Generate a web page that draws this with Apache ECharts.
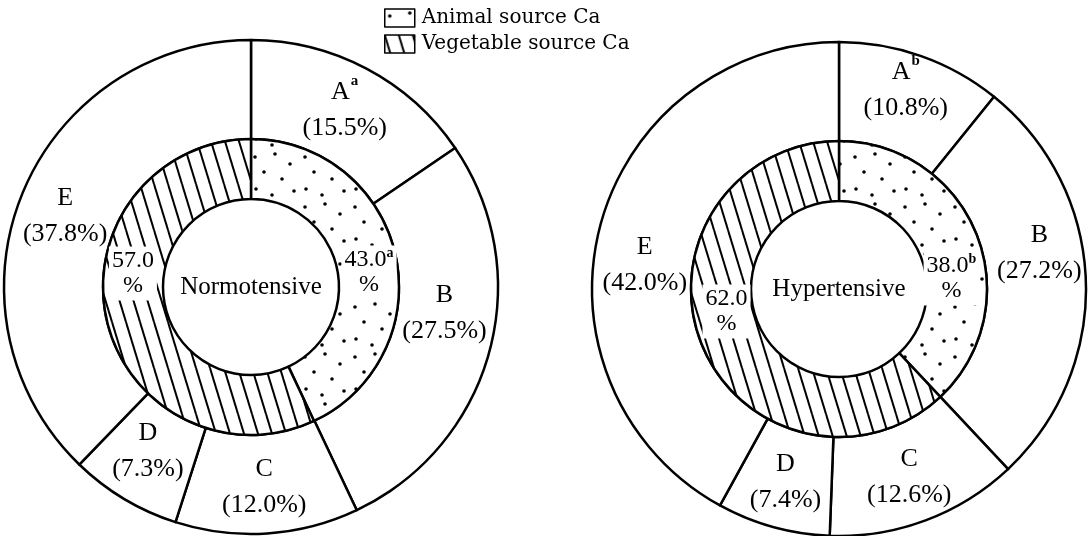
<!DOCTYPE html>
<html>
<head>
<meta charset="utf-8">
<script src="https://cdn.jsdelivr.net/npm/echarts@6/dist/echarts.min.js"></script>
<style>
    html, body { margin: 0; background: #fff; }
    #chart { width: 1090px; height: 536px; }
</style>
</head>
<body>
<div id="chart"></div>
<script>
// data
const groups = ['Normotensive', 'Hypertensive'];
const groupMarks = ['a', 'b'];
const parts = ['A', 'B', 'C', 'D', 'E'];
const normoShares = [15.5, 27.5, 12.0, 7.3, 37.8];
const hyperShares = [10.8, 27.2, 12.6, 7.4, 42.0];
const sources = ['Animal source Ca', 'Vegetable source Ca'];
const normoSource = [43.0, 57.0];
const hyperSource = [38.0, 62.0];

const FONT = 'Liberation Serif';
const centers = [[251, 287], [839, 289]];
// small label nudges so they sit where the printed figure has them
const outerNudge = [[0, -26, 0, -8, 4], [-10, -28, 0, 0, 26]];
const innerNudge = [[12, -40], [34, -22]];

function make_dots() {
    const c = document.createElement('canvas');
    c.width = 50; c.height = 50;
    const g = c.getContext('2d');
    g.fillStyle = '#fff';
    g.fillRect(0, 0, 50, 50);
    g.fillStyle = '#000';
    [[5, 7], [25, 4], [40, 14], [14, 22], [32, 29], [6, 39], [22, 45], [44, 41]].forEach(function (p) {
        g.beginPath();
        g.arc(p[0], p[1], 1.8, 0, Math.PI * 2);
        g.fill();
    });
    return c;
}

function make_hatch() {
    const w = 14, h = 46;
    const c = document.createElement('canvas');
    c.width = w; c.height = h;
    const g = c.getContext('2d');
    g.fillStyle = '#fff';
    g.fillRect(0, 0, w, h);
    g.strokeStyle = '#000';
    g.lineWidth = 2;
    [-w, 0, w].forEach(function (off) {
        g.beginPath();
        g.moveTo(off, 0);
        g.lineTo(off + w, h);
        g.stroke();
    });
    return c;
}

const fills = [
    { image: make_dots(), repeat: 'repeat' },
    { image: make_hatch(), repeat: 'repeat' }
];

const rich = {
    n: { fontFamily: FONT, fontSize: 26, color: '#000', lineHeight: 36 },
    s: { fontFamily: FONT, fontSize: 15, fontWeight: 'bold', color: '#000', verticalAlign: 'top', lineHeight: 36, padding: [0, 0, 12, 1] },
    v: { fontFamily: FONT, fontSize: 24, color: '#000', lineHeight: 25 },
    t: { fontFamily: FONT, fontSize: 14, fontWeight: 'bold', color: '#000', lineHeight: 25, padding: [0, 0, 14, 0] }
};

function outer_series(k, shares) {
    return {
        type: 'pie',
        center: centers[k],
        radius: [148, 247],
        startAngle: 90,
        clockwise: true,
        silent: true,
        avoidLabelOverlap: false,
        itemStyle: { color: '#fff', borderColor: '#000', borderWidth: 2.5 },
        label: {
            position: 'inside',
            rich: rich,
            formatter: function (p) {
                const sup = p.dataIndex === 0 ? '{s|' + groupMarks[k] + '}' : '';
                return '{n|' + p.name + '}' + sup + '\n{n|(' + p.value.toFixed(1) + '%)}';
            }
        },
        labelLayout: function (p) {
            return { dy: outerNudge[k][p.dataIndex] };
        },
        labelLine: { show: false },
        data: parts.map(function (name, i) {
            return { name: name, value: shares[i] };
        })
    };
}

function inner_series(k, shares) {
    return {
        type: 'pie',
        center: centers[k],
        radius: [88, 148],
        startAngle: 90,
        clockwise: true,
        silent: true,
        avoidLabelOverlap: false,
        itemStyle: { borderColor: '#000', borderWidth: 2.5 },
        label: {
            position: 'inside',
            rich: rich,
            backgroundColor: '#fff',
            padding: [2, 3],
            formatter: function (p) {
                const sup = p.dataIndex === 0 ? '{t|' + groupMarks[k] + '}' : '';
                return '{v|' + p.value.toFixed(1) + '}' + sup + '\n{v|%}';
            }
        },
        labelLayout: function (p) {
            return { dy: innerNudge[k][p.dataIndex] };
        },
        labelLine: { show: false },
        data: sources.map(function (name, i) {
            return { name: name, value: shares[i], itemStyle: { color: fills[i] } };
        })
    };
}

const myChart = echarts.init(document.getElementById('chart'));
myChart.setOption({
    animation: false,
    backgroundColor: '#fff',
    legend: {
        data: sources,
        orient: 'vertical',
        left: 379,
        top: 3,
        icon: 'rect',
        itemWidth: 30,
        itemHeight: 18,
        itemGap: 6,
        selectedMode: false,
        itemStyle: { borderColor: '#000', borderWidth: 1.5 },
        textStyle: { fontFamily: 'DejaVu Serif', fontSize: 20, color: '#000', padding: [0, 0, 0, 2] }
    },
    graphic: groups.map(function (g, k) {
        return {
            type: 'text',
            x: centers[k][0],
            y: centers[k][1],
            style: {
                text: g, fontFamily: FONT, fontSize: 25, fill: '#000',
                align: 'center', verticalAlign: 'middle'
            }
        };
    }),
    series: [
        outer_series(0, normoShares),
        inner_series(0, normoSource),
        outer_series(1, hyperShares),
        inner_series(1, hyperSource)
    ]
});
</script>
</body>
</html>
